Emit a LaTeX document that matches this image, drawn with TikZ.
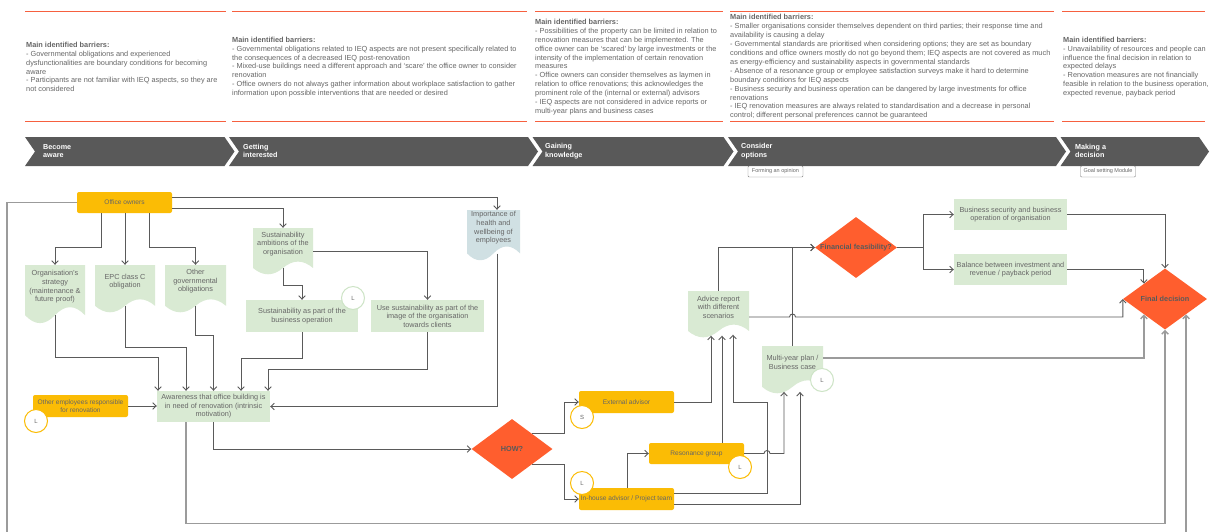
\documentclass[tikz,border=0pt]{standalone}
\usepackage{fontspec}
\setmainfont{Liberation Sans}
\usetikzlibrary{arrows.meta,shapes.geometric,calc}
\definecolor{topline}{RGB}{246,96,63}
\definecolor{chev}{RGB}{89,89,89}
\definecolor{amber}{RGB}{251,188,5}
\definecolor{lgreen}{RGB}{217,234,211}
\definecolor{lblue}{RGB}{208,224,227}
\definecolor{dred}{RGB}{255,94,46}
\definecolor{txt}{RGB}{102,102,102}
\definecolor{ln}{RGB}{90,90,90}
\definecolor{lnl}{RGB}{155,155,155}
\definecolor{gedge}{RGB}{205,228,198}
\tikzset{
  fs/.style={font=\fontsize{7.3}{8.6}\selectfont},
  fsa/.style={font=\fontsize{6.6}{8}\selectfont},
  barrier/.style={anchor=west, align=left, inner sep=0pt, text=txt, font=\fontsize{7.35}{8.9}\selectfont},
  rule/.style={fill=topline},
  chevron/.style={fill=chev},
  phase/.style={anchor=west, align=left, inner sep=0pt, text=white, font=\bfseries\fontsize{7.2}{8.4}\selectfont},
  tag/.style={draw=gray, fill=white, rounded corners=1pt, inner sep=0pt, minimum width=55pt, minimum height=11pt, font=\fontsize{5.5}{6}\selectfont, text=txt},
  box/.style={rectangle, fill=lgreen, align=center, inner sep=1pt, text=txt, fs},
  actor/.style={rectangle, fill=amber, rounded corners=2pt, align=center, inner sep=1pt, text=txt, fsa},
  decision/.style={diamond, fill=dred, inner sep=0pt},
  dlabel/.style={text=ln, inner sep=0pt, font=\bfseries\fontsize{7.3}{8.6}\selectfont},
  doc/.style={rectangle, inner sep=0pt, path picture={
    \fill[#1] let \p1=(path picture bounding box.south west), \p2=(path picture bounding box.north east), \n1={\x2-\x1}, \n2={\y2-\y1} in
      (\x1,\y2) -- (\x2,\y2) -- (\x2,\y1+0.15*\n2)
      .. controls (\x2-\n1/6,\y1+0.33*\n2) and (\x1+2*\n1/3,\y1+0.33*\n2) .. (\x1+0.5*\n1,\y1+0.15*\n2)
      .. controls (\x1+\n1/3,\y1-0.03*\n2) and (\x1+\n1/6,\y1-0.03*\n2) .. (\x1,\y1+0.15*\n2) -- cycle;
  }},
  doctext/.style={align=center, text=txt, fs, inner sep=0pt, yshift=7.5pt},
  badge/.style={circle, fill=white, draw=#1, line width=1pt, minimum size=23pt, inner sep=0pt, text=txt, font=\fontsize{6}{7}\selectfont},
  tip/.style={-{Straight Barb[length=3.5pt,width=6.5pt]}},
  conn/.style={draw=ln, line width=0.9pt, tip},
  connl/.style={draw=lnl, line width=1.4pt, tip},
}
\begin{document}
\begin{tikzpicture}[x=1pt,y=-1pt]
\useasboundingbox (0,0) rectangle (1210,531);
\clip (0,0) rectangle (1210,531);
\fill[white] (0,0) rectangle (1210,531);

% ---------- barrier columns ----------
\fill[rule] (25,10.6) rectangle (226,12.4);
\fill[rule] (232,10.6) rectangle (527,12.4);
\fill[rule] (535,10.6) rectangle (723,12.4);
\fill[rule] (730,10.6) rectangle (1054,12.4);
\fill[rule] (1062,10.6) rectangle (1205,12.4);
\fill[rule] (25,120.6) rectangle (226,122.4);
\fill[rule] (232,120.6) rectangle (527,122.4);
\fill[rule] (535,120.6) rectangle (723,122.4);
\fill[rule] (730,120.6) rectangle (1054,122.4);
\fill[rule] (1062,120.6) rectangle (1205,122.4);

\node[barrier] (b1) at (26,67) {\textbf{Main identified barriers:}\\
- Governmental obligations and experienced\\
dysfunctionalities are boundary conditions for becoming\\
aware\\
- Participants are not familiar with IEQ aspects, so they are\\
not considered};
\node[barrier] (b2) at (232,67) {\textbf{Main identified barriers:}\\
- Governmental obligations related to IEQ aspects are not present specifically related to\\
the consequences of a decreased IEQ post-renovation\\
- Mixed-use buildings need a different approach and `scare' the office owner to consider\\
renovation\\
- Office owners do not always gather information about workplace satisfaction to gather\\
information upon possible interventions that are needed or desired};
\node[barrier] (b3) at (535,67) {\textbf{Main identified barriers:}\\
- Possibilities of the property can be limited in relation to\\
renovation measures that can be implemented. The\\
office owner can be `scared' by large investments or the\\
intensity of the implementation of certain renovation\\
measures\\
- Office owners can consider themselves as laymen in\\
relation to office renovations; this acknowledges the\\
prominent role of the (internal or external) advisors\\
- IEQ aspects are not considered in advice reports or\\
multi-year plans and business cases};
\node[barrier] (b4) at (730,67) {\textbf{Main identified barriers:}\\
- Smaller organisations consider themselves dependent on third parties; their response time and\\
availability is causing a delay\\
- Governmental standards are prioritised when considering options; they are set as boundary\\
conditions and office owners mostly do not go beyond them; IEQ aspects are not covered as much\\
as energy-efficiency and sustainability aspects in governmental standards\\
- Absence of a resonance group or employee satisfaction surveys make it hard to determine\\
boundary conditions for IEQ aspects\\
- Business security and business operation can be dangered by large investments for office\\
renovations\\
- IEQ renovation measures are always related to standardisation and a decrease in personal\\
control; different personal preferences cannot be guaranteed};
\node[barrier] (b5) at (1063,67) {\textbf{Main identified barriers:}\\
- Unavailability of resources and people can\\
influence the final decision in relation to\\
expected delays\\
- Renovation measures are not financially\\
feasible in relation to the business operation,\\
expected revenue, payback period};

% ---------- phase chevrons ----------
\foreach \xa/\xb in {25/224.5,229/528,532.5/723.5,728/1056,1060.5/1199}{
  \fill[chevron] (\xa,137) -- (\xb,137) -- (\xb+10,151.5) -- (\xb,166) -- (\xa,166) -- (\xa+10,151.5) -- cycle;
}
\node[phase] (p1) at (43,151) {Become\\aware};
\node[phase] (p2) at (243,151) {Getting\\interested};
\node[phase] (p3) at (545,151) {Gaining\\knowledge};
\node[phase] (p4) at (741,151) {Consider\\options};
\node[phase] (p5) at (1075,151) {Making a\\decision};
\node[tag] (t1) at (775.5,171.5) {Forming an opinion};
\node[tag] (t2) at (1108,171.5) {Goal setting Module};

% ---------- nodes ----------
\node[actor, minimum width=95pt, minimum height=21pt] (owners) at (124.5,202.5) {Office owners};

\node[doc=lgreen, minimum width=60pt, minimum height=59pt,
  label={[doctext]center:Organisation's\\strategy\\(maintenance \&\\future proof)}] (strategy) at (55,294.5) {};
\node[doc=lgreen, minimum width=60pt, minimum height=48pt,
  label={[doctext]center:EPC class C\\obligation}] (epc) at (125,289) {};
\node[doc=lgreen, minimum width=61pt, minimum height=48pt,
  label={[doctext]center:Other\\governmental\\obligations}] (othergov) at (195.5,289) {};
\node[doc=lgreen, minimum width=60pt, minimum height=47pt,
  label={[doctext]center:Sustainability\\ambitions of the\\organisation}] (ambitions) at (283,251.5) {};
\node[doc=lblue, minimum width=53pt, minimum height=51pt,
  label={[doctext]center:Importance of\\health and\\wellbeing of\\employees}] (importance) at (493.5,235.5) {};

\node[box, minimum width=112pt, minimum height=32pt] (sustbus) at (302,316) {Sustainability as part of the\\business operation};
\node[box, minimum width=113pt, minimum height=32pt] (usesust) at (427.5,316) {Use sustainability as part of the\\image of the organisation\\towards clients};
\node[box, minimum width=113pt, minimum height=31pt] (awareness) at (213.5,406.5) {Awareness that office building is\\in need of renovation (intrinsic\\motivation)};
\node[actor, minimum width=95pt, minimum height=22pt] (otheremp) at (80.5,406) {Other employees responsible\\for renovation};

\node[decision, minimum width=81pt, minimum height=60pt, label={[dlabel]center:HOW?}] (how) at (512,449) {};
\node[actor, minimum width=95pt, minimum height=22pt] (external) at (626.5,402) {External advisor};
\node[actor, minimum width=95pt, minimum height=22pt] (inhouse) at (626.5,499) {In-house advisor / Project team};
\node[actor, minimum width=95pt, minimum height=21pt] (resonance) at (696.5,453.5) {Resonance group};

\node[doc=lgreen, minimum width=61pt, minimum height=47pt,
  label={[doctext]center:Advice report\\with different\\scenarios}] (advice) at (718.5,314.5) {};
\node[doc=lgreen, minimum width=61pt, minimum height=48pt,
  label={[doctext]center:Multi-year plan /\\Business case}] (multiyear) at (792.5,370) {};

\node[decision, minimum width=82pt, minimum height=61pt, label={[dlabel]center:Financial feasibility?}] (finfeas) at (856,247.5) {};
\node[box, minimum width=113pt, minimum height=31pt] (bussec) at (1010.5,214.5) {Business security and business\\operation of organisation};
\node[box, minimum width=113pt, minimum height=31pt] (balance) at (1010.5,269.5) {Balance between investment and\\revenue / payback period};
\node[decision, minimum width=84pt, minimum height=61pt, label={[dlabel]center:Final decision}] (final) at (1165,299) {};

% badges
\node[badge=gedge] (bsust) at (353,298) {L};
\node[badge=amber] (bemp) at (36,421) {L};
\node[badge=amber] (bext) at (582,417) {S};
\node[badge=amber] (binh) at (582,483) {L};
\node[badge=amber] (bres) at (740,467) {L};
\node[badge=gedge] (bmyp) at (822,380) {L};

% ---------- connectors ----------
\draw[connl] (owners.west) -| (7,560) -| (final.south east);
\draw[conn] ([yshift=5.5pt]owners.east) -| ([xshift=3.5pt]importance.north);
\draw[conn] ([yshift=-5.5pt]owners.east) -| (ambitions.north);
\draw[conn] ([xshift=-23.5pt]owners.south) -- ++(0,34) -| (strategy.north);
\draw[conn] (owners.south -| epc.north) -- (epc.north);
\draw[conn] ([xshift=24.5pt]owners.south) -- ++(0,34) -| (othergov.north);

\draw[conn] ([yshift=8.85pt]strategy.south) -- ++(0,41.85) -| ([xshift=-55.5pt]awareness.north);
\draw[conn] ([yshift=7.2pt]epc.south) -- ++(0,41.2) -| ([xshift=-27.5pt]awareness.north);
\draw[conn] ([yshift=7.2pt]othergov.south) -- ++(0,29.2) -| (awareness.north);
\draw[conn] (sustbus.south) -- ++(0,26) -| ([xshift=27.5pt]awareness.north);
\draw[conn] (usesust.south) -- ++(0,37) -| ([xshift=54.5pt]awareness.north);
\draw[conn] ([xshift=3.5pt,yshift=7.65pt]importance.south) |- (awareness.east);
\draw[conn] (otheremp.east) -- (otheremp.east -| awareness.west);
\draw[conn] ([yshift=7pt]ambitions.south) -- ++(0,17) -| (sustbus.north);
\draw[conn] (ambitions.east) -| (usesust.north);

\draw[conn] (awareness.south) |- (how.west);
\draw[connl] ([xshift=-27.5pt]awareness.south) -- ++(0,101) -| (final.south);

\draw[conn] (how.north east) -- ++(32,0) |- (external.west);
\draw[conn] (how.south east) -- ++(32,0) |- (inhouse.west);
\draw[conn] ([xshift=0.5pt]inhouse.north) |- (resonance.west);

\draw[conn] (external.east) -| ([xshift=-7.5pt,yshift=2.5pt]advice.south);
\draw[conn] ([xshift=25.5pt]resonance.north) -- ([xshift=3.5pt,yshift=2.5pt]advice.south);
\draw[conn] ([yshift=5.5pt]inhouse.east) -- ++(93,0) -- ++(0,-91.5) -| ([xshift=14.5pt,yshift=3.5pt]advice.south);
\draw[conn] (resonance.east) -- (764,453.5) arc[start angle=180,end angle=0,radius=3pt] -| ([xshift=-8.5pt,yshift=2.3pt]multiyear.south);
\draw[conn] ([yshift=-5.5pt]inhouse.east) -| ([xshift=7.5pt,yshift=2.3pt]multiyear.south);

\draw[conn] (advice.north) |- (finfeas.west);
\draw[conn] (multiyear.north) |- (finfeas.west);
\draw[conn] ([yshift=-2.5pt]advice.east) -- (789.5,317) arc[start angle=180,end angle=0,radius=3pt] -| (final.west);
\draw[connl] ([yshift=12pt]multiyear.east) -| (final.south west);

\draw[conn] (finfeas.east) -- ++(26,0) |- (bussec.west);
\draw[conn] (finfeas.east) -- ++(26,0) |- (balance.west);
\draw[conn] (bussec.east) -| (final.north);
\draw[conn] (balance.east) -| (final.north west);
\end{tikzpicture}
\end{document}
